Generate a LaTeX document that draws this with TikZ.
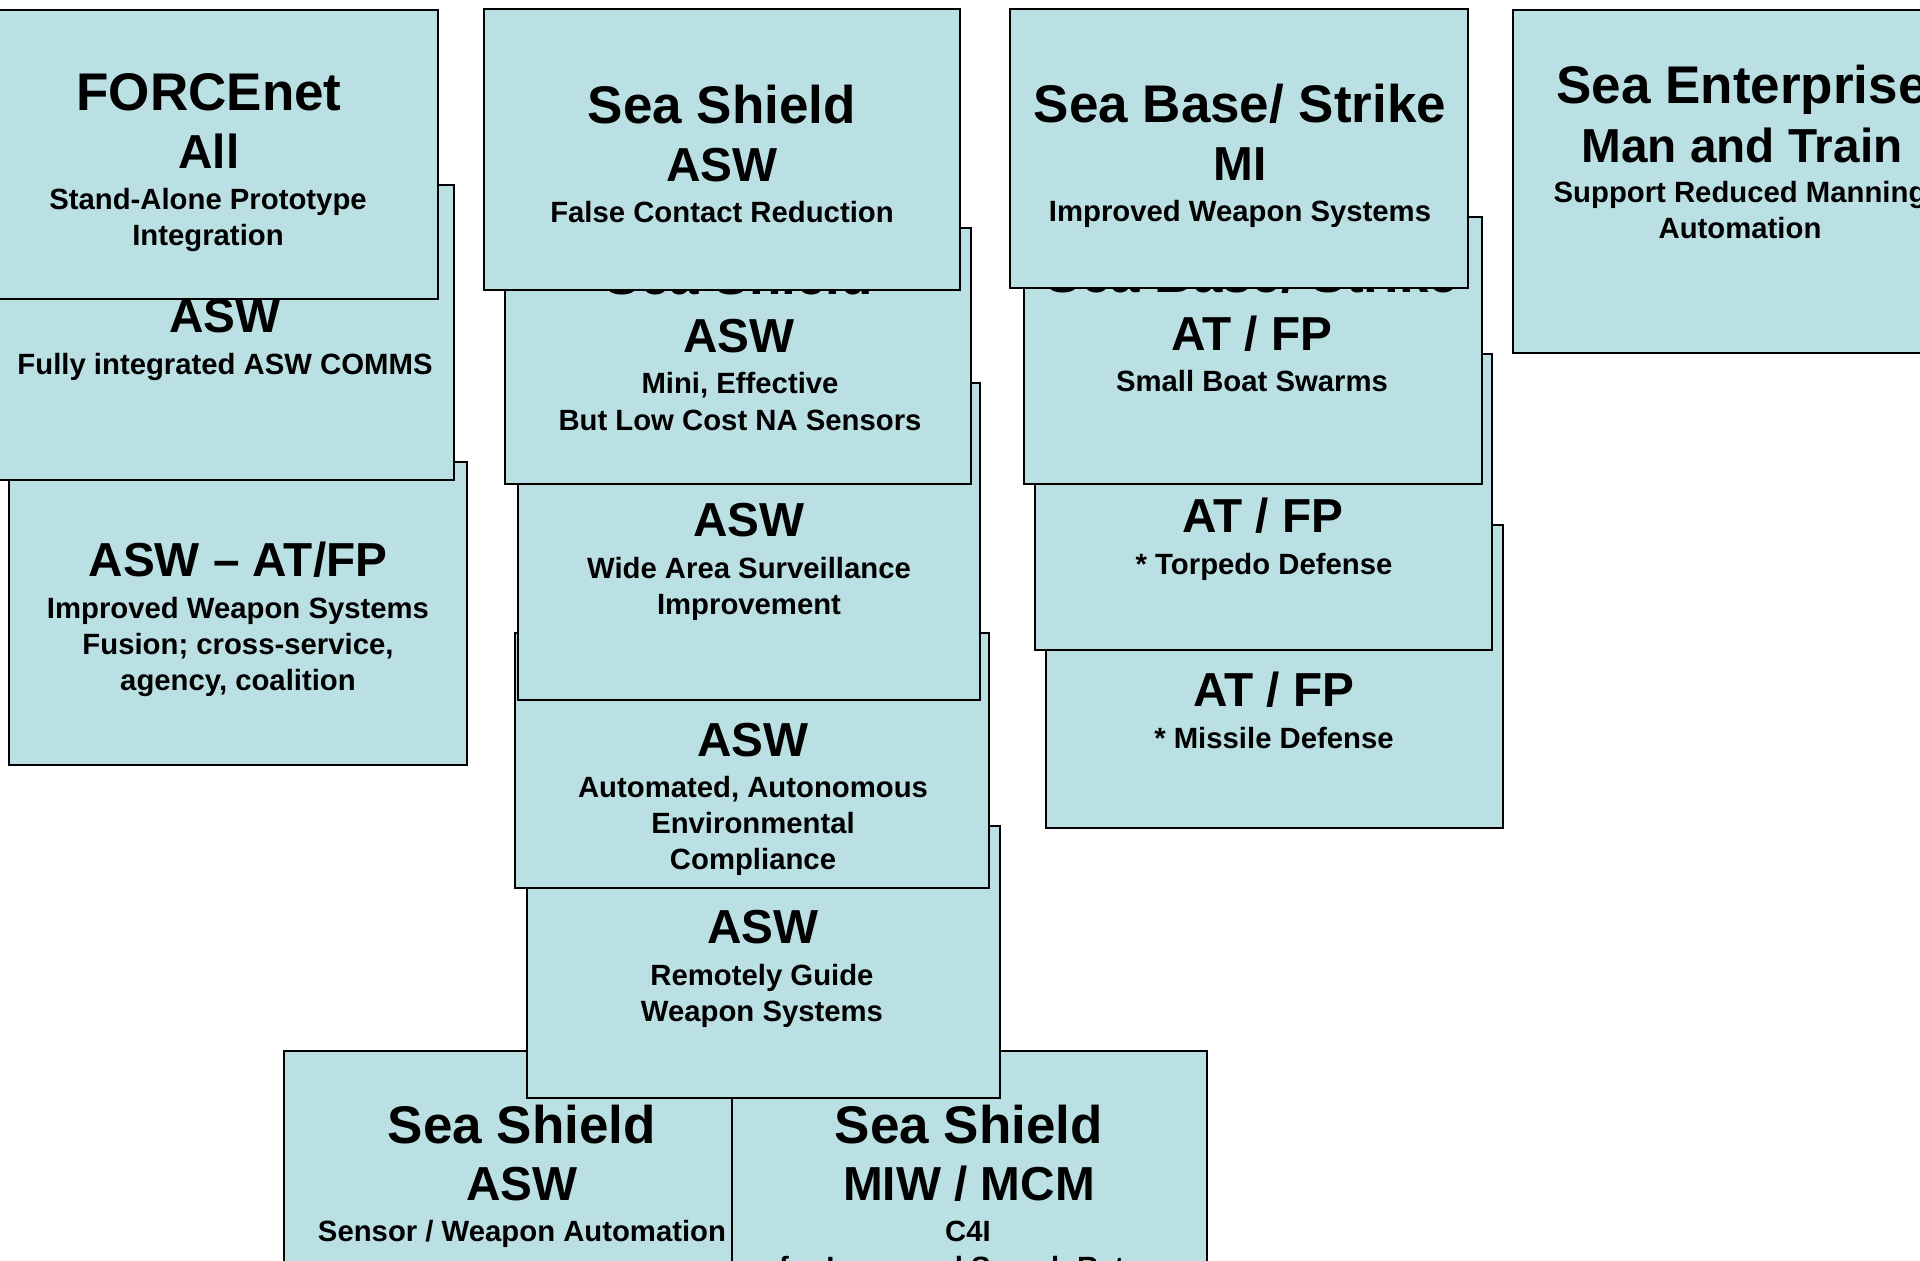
\documentclass[tikz,border=0pt]{standalone}
\usepackage{fontspec}
\setmainfont{Liberation Sans}
\definecolor{boxfill}{RGB}{187,224,227}
\newcommand\HeadF{\fontsize{26.5}{30}\selectfont\bfseries}
\newcommand\AreaF{\fontsize{23.85}{30}\selectfont\bfseries}
\newcommand\SubF{\fontsize{14.65}{18}\selectfont\bfseries}
\tikzset{
  box/.style={draw=black, line width=0.9pt, fill=boxfill, anchor=north west,
    inner sep=0pt, outer sep=0pt},
  head/.style={anchor=base, inner sep=0pt, font=\HeadF},
  area/.style={anchor=base, inner sep=0pt, font=\AreaF},
  sub/.style={anchor=base, align=center, inner sep=0pt, font=\SubF}
}
\begin{document}
\begin{tikzpicture}[x=0.5pt,y=-0.5pt]
\useasboundingbox (0,0) rectangle (1920,1261);
\fill[white] (0,0) rectangle (1920,1261);
\clip (0,0) rectangle (1920,1261);

% (sub nodes are anchored at the baseline of their last line)

% bottom row
\node[box, minimum width=238pt, minimum height=174.5pt] (b9) at (284,1051) {};
\node[head] (h9) at (522,1143) {Sea Shield};
\node[area] (a9) at (522,1200.5) {ASW};
\node[sub] (s9) at (522,1241) {Sensor / Weapon Automation};
\node[box, minimum width=237.5pt, minimum height=174.5pt] (b10) at (732,1051) {};
\node[head] (h10) at (969,1143) {Sea Shield};
\node[area] (a10) at (969,1200.5) {MIW / MCM};
\node[sub] (s10) at (968,1277) {C4I\\for Increased Search Rates};

% middle column
\node[box, minimum width=236.5pt, minimum height=136pt] (b8) at (527,826) {};
\node[area] (a8) at (763,943.5) {ASW};
\node[sub] (s8) at (762,1021) {Remotely Guide\\Weapon Systems};
\node[box, minimum width=237pt, minimum height=127.5pt] (b7) at (515,633) {};
\node[area] (a7) at (753,756.5) {ASW};
\node[sub] (s7) at (753,869) {Automated, Autonomous\\Environmental\\Compliance};
\node[box, minimum width=231pt, minimum height=158.5pt] (b6) at (518,383) {};
\node[area] (a6) at (749,536.5) {ASW};
\node[sub] (s6) at (749,614) {Wide Area Surveillance\\Improvement};
\node[box, minimum width=233pt, minimum height=128pt] (b5) at (505,228) {};
\node[head] (h5) at (739,295) {Sea Shield};
\node[area] (a5) at (739,352.5) {ASW};
\node[sub] (s5) at (740,430) {Mini, Effective\\But Low Cost NA Sensors};
\node[box, minimum width=238pt, minimum height=140.5pt] (b4) at (484,9) {};
\node[head] (h4) at (722,124) {Sea Shield};
\node[area] (a4) at (722,181.5) {ASW};
\node[sub] (s4) at (722,223) {False Contact Reduction};

% left column
\node[box, minimum width=229pt, minimum height=151.5pt] (b3) at (9,462) {};
\node[area] (a3) at (238,576.5) {ASW – AT/FP};
\node[sub] (s3) at (238,690) {Improved Weapon Systems\\Fusion; cross-service,\\agency, coalition};
\node[box, minimum width=229.5pt, minimum height=147.5pt] (b2) at (-5,185) {};
\node[area] (a2) at (225,332.5) {ASW};
\node[sub] (s2) at (225,374.5) {Fully integrated ASW COMMS};
\node[box, minimum width=229pt, minimum height=144.5pt] (b1) at (-20,10) {};
\node[head] (h1) at (209,111) {FORCEnet};
\node[area] (a1) at (209,168.5) {All};
\node[sub] (s1) at (208,246) {Stand-Alone Prototype\\Integration};

% right column
\node[box, minimum width=228.5pt, minimum height=151.5pt] (b14) at (1046,525) {};
\node[area] (a14) at (1274,706.5) {AT / FP};
\node[sub] (s14) at (1274,748) {* Missile Defense};
\node[box, minimum width=228.5pt, minimum height=148pt] (b13) at (1035,354) {};
\node[area] (a13) at (1263,532.5) {AT / FP};
\node[sub] (s13) at (1264,574) {* Torpedo Defense};
\node[box, minimum width=229pt, minimum height=133.5pt] (b12) at (1024,217) {};
\node[head] (h12) at (1252,293) {Sea Base/ Strike};
\node[area] (a12) at (1252,350.5) {AT / FP};
\node[sub] (s12) at (1252,392) {Small Boat Swarms};
\node[box, minimum width=229pt, minimum height=139.5pt] (b11) at (1010,9) {};
\node[head] (h11) at (1240,123) {Sea Base/ Strike};
\node[area] (a11) at (1240,180.5) {MI};
\node[sub] (s11) at (1240,222) {Improved Weapon Systems};

% far right
\node[box, minimum width=229pt, minimum height=171.5pt] (b15) at (1513,10) {};
\node[head] (h15) at (1742,104) {Sea Enterprise};
\node[area] (a15) at (1742,163) {Man and Train};
\node[sub] (s15) at (1740,239) {Support Reduced Manning\\Automation};
\end{tikzpicture}
\end{document}
